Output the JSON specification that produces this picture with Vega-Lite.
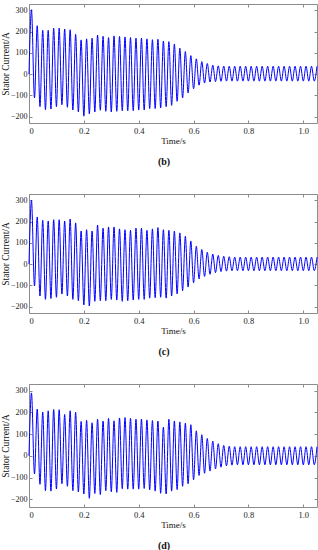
{
"$schema": "https://vega.github.io/schema/vega-lite/v6.json",
"padding": {"left": 0, "top": 3, "right": 1, "bottom": 0},
"background": "white",
"spacing": 26,
"config": {
  "font": "Liberation Serif",
  "view": {"stroke": null},
  "title": {"font": "Liberation Serif", "fontSize": 10, "fontWeight": "bold", "color": "#111"},
  "axis": {"labelFont": "Liberation Serif", "titleFont": "Liberation Serif", "labelFontSize": 8.5, "titleFontSize": 9, "titleFontWeight": "normal", "domainColor": "#8c8c8c", "tickColor": "#8c8c8c", "labelColor": "#222", "titleColor": "#111", "grid": false, "tickSize": -3, "labelPadding": 6}
},
"datasets": {"s": [
{"t":0,"b":0,"c":0,"d":0},
{"t":0.009,"b":303,"c":300,"d":289},
{"t":0.02,"b":-112,"c":-103,"d":-83},
{"t":0.03,"b":228,"c":222,"d":215},
{"t":0.04,"b":-153,"c":-150,"d":-131},
{"t":0.05,"b":206,"c":206,"d":201},
{"t":0.06,"b":-167,"c":-166,"d":-160},
{"t":0.07,"b":206,"c":203,"d":207},
{"t":0.08,"b":-164,"c":-162,"d":-162},
{"t":0.09,"b":216,"c":209,"d":213},
{"t":0.10,"b":-153,"c":-156,"d":-152},
{"t":0.11,"b":216,"c":209,"d":212},
{"t":0.12,"b":-144,"c":-141,"d":-128},
{"t":0.13,"b":212,"c":203,"d":190},
{"t":0.14,"b":-156,"c":-150,"d":-140},
{"t":0.15,"b":209,"c":212,"d":207},
{"t":0.16,"b":-169,"c":-166,"d":-160},
{"t":0.17,"b":187,"c":194,"d":200},
{"t":0.18,"b":-178,"c":-172,"d":-166},
{"t":0.19,"b":161,"c":156,"d":158},
{"t":0.20,"b":-198,"c":-192,"d":-175},
{"t":0.21,"b":166,"c":162,"d":163},
{"t":0.22,"b":-187,"c":-197,"d":-195},
{"t":0.23,"b":169,"c":156,"d":152},
{"t":0.24,"b":-178,"c":-175,"d":-173},
{"t":0.25,"b":184,"c":184,"d":168},
{"t":0.26,"b":-170,"c":-172,"d":-178},
{"t":0.27,"b":178,"c":169,"d":160},
{"t":0.28,"b":-175,"c":-172,"d":-160},
{"t":0.29,"b":172,"c":175,"d":172},
{"t":0.30,"b":-178,"c":-166,"d":-165},
{"t":0.31,"b":180,"c":175,"d":161},
{"t":0.32,"b":-175,"c":-169,"d":-168},
{"t":0.33,"b":177,"c":166,"d":174},
{"t":0.34,"b":-172,"c":-175,"d":-151},
{"t":0.35,"b":175,"c":162,"d":176},
{"t":0.36,"b":-172,"c":-172,"d":-153},
{"t":0.37,"b":172,"c":159,"d":172},
{"t":0.38,"b":-172,"c":-169,"d":-153},
{"t":0.39,"b":169,"c":169,"d":168},
{"t":0.40,"b":-169,"c":-166,"d":-153},
{"t":0.41,"b":169,"c":169,"d":169},
{"t":0.42,"b":-169,"c":-166,"d":-150},
{"t":0.43,"b":166,"c":159,"d":165},
{"t":0.44,"b":-162,"c":-160,"d":-156},
{"t":0.45,"b":162,"c":166,"d":162},
{"t":0.46,"b":-162,"c":-158,"d":-162},
{"t":0.47,"b":164,"c":172,"d":160},
{"t":0.48,"b":-159,"c":-156,"d":-172},
{"t":0.49,"b":156,"c":162,"d":132},
{"t":0.50,"b":-153,"c":-160,"d":-175},
{"t":0.51,"b":153,"c":159,"d":168},
{"t":0.52,"b":-147,"c":-150,"d":-162},
{"t":0.53,"b":142,"c":156,"d":160},
{"t":0.54,"b":-128,"c":-140,"d":-155},
{"t":0.55,"b":122,"c":147,"d":156},
{"t":0.56,"b":-112,"c":-125,"d":-140},
{"t":0.57,"b":106,"c":131,"d":150},
{"t":0.58,"b":-89,"c":-108,"d":-128},
{"t":0.59,"b":87,"c":109,"d":143},
{"t":0.60,"b":-69,"c":-88,"d":-110},
{"t":0.61,"b":72,"c":84,"d":115},
{"t":0.62,"b":-52,"c":-70,"d":-90},
{"t":0.63,"b":59,"c":69,"d":97},
{"t":0.64,"b":-42,"c":-58,"d":-80},
{"t":0.65,"b":50,"c":56,"d":80},
{"t":0.66,"b":-37,"c":-48,"d":-70},
{"t":0.67,"b":42,"c":47,"d":68},
{"t":0.68,"b":-35,"c":-40,"d":-60},
{"t":0.69,"b":39,"c":41,"d":56},
{"t":0.70,"b":-34,"c":-35,"d":-52},
{"t":0.71,"b":38,"c":37,"d":48},
{"t":0.72,"b":-33,"c":-33,"d":-46},
{"t":0.73,"b":37,"c":35,"d":44},
{"t":0.74,"b":-33,"c":-31,"d":-43},
{"t":0.75,"b":37,"c":33,"d":42},
{"t":0.76,"b":-33,"c":-31,"d":-41},
{"t":0.77,"b":37,"c":33,"d":42},
{"t":0.78,"b":-33,"c":-31,"d":-41},
{"t":0.79,"b":37,"c":33,"d":42},
{"t":0.80,"b":-33,"c":-31,"d":-41},
{"t":0.81,"b":37,"c":33,"d":42},
{"t":0.82,"b":-33,"c":-31,"d":-41},
{"t":0.83,"b":37,"c":33,"d":42},
{"t":0.84,"b":-33,"c":-31,"d":-41},
{"t":0.85,"b":37,"c":33,"d":42},
{"t":0.86,"b":-33,"c":-31,"d":-41},
{"t":0.87,"b":37,"c":33,"d":42},
{"t":0.88,"b":-33,"c":-31,"d":-41},
{"t":0.89,"b":37,"c":33,"d":42},
{"t":0.90,"b":-33,"c":-31,"d":-41},
{"t":0.91,"b":37,"c":33,"d":42},
{"t":0.92,"b":-33,"c":-31,"d":-41},
{"t":0.93,"b":37,"c":33,"d":42},
{"t":0.94,"b":-33,"c":-31,"d":-41},
{"t":0.95,"b":37,"c":33,"d":42},
{"t":0.96,"b":-33,"c":-31,"d":-41},
{"t":0.97,"b":37,"c":33,"d":42},
{"t":0.98,"b":-33,"c":-31,"d":-41},
{"t":0.99,"b":37,"c":33,"d":42},
{"t":1.00,"b":-33,"c":-31,"d":-41},
{"t":1.01,"b":37,"c":33,"d":42},
{"t":1.02,"b":-33,"c":-31,"d":-41},
{"t":1.03,"b":37,"c":33,"d":42},
{"t":1.04,"b":-33,"c":-31,"d":-41},
{"t":1.05,"b":37,"c":33,"d":42}
]},
"vconcat": [
{
  "width": 288, "height": 119,
  "data": {"name": "s"},
  "title": {"text": "(b)", "orient": "bottom", "dx": -9, "offset": 11},
  "layer": [
    {"mark": {"type": "line", "color": "#0000ff", "strokeWidth": 1, "interpolate": "monotone"},
     "encoding": {
       "x": {"field": "t", "type": "quantitative", "scale": {"domain": [0, 1.05], "nice": false, "zero": false}, "axis": {"orient": "bottom", "title": "Time/s", "values": [0, 0.2, 0.4, 0.6, 0.8, 1.0], "labelExpr": "datum.value == 0 ? '0' : format(datum.value, '.1f')", "titlePadding": 2}},
       "y": {"field": "b", "type": "quantitative", "scale": {"domain": [-230, 330], "nice": false}, "axis": {"orient": "left", "title": "Stator Current/A", "titleFontSize": 9.5, "labelFontSize": 8, "values": [-200, -100, 0, 100, 200, 300], "labelPadding": 5, "titlePadding": 0}}
     }},
    {"mark": {"type": "line", "strokeOpacity": 0},
     "encoding": {
       "x": {"field": "t", "type": "quantitative", "scale": {"domain": [0, 1.05], "nice": false, "zero": false}, "axis": {"orient": "top", "labels": false, "title": null, "values": [0, 0.2, 0.4, 0.6, 0.8, 1.0]}},
       "y": {"field": "b", "type": "quantitative", "scale": {"domain": [-230, 330], "nice": false}, "axis": {"orient": "right", "labels": false, "title": null, "values": [-200, -100, 0, 100, 200, 300]}}
     }}
  ],
  "resolve": {"axis": {"x": "independent", "y": "independent"}}
},
{
  "width": 288, "height": 119,
  "data": {"name": "s"},
  "title": {"text": "(c)", "orient": "bottom", "dx": -9, "offset": 11},
  "layer": [
    {"mark": {"type": "line", "color": "#0000ff", "strokeWidth": 1, "interpolate": "monotone"},
     "encoding": {
       "x": {"field": "t", "type": "quantitative", "scale": {"domain": [0, 1.05], "nice": false, "zero": false}, "axis": {"orient": "bottom", "title": "Time/s", "values": [0, 0.2, 0.4, 0.6, 0.8, 1.0], "labelExpr": "datum.value == 0 ? '0' : format(datum.value, '.1f')", "titlePadding": 2}},
       "y": {"field": "c", "type": "quantitative", "scale": {"domain": [-230, 330], "nice": false}, "axis": {"orient": "left", "title": "Stator Current/A", "titleFontSize": 9.5, "labelFontSize": 8, "values": [-200, -100, 0, 100, 200, 300], "labelPadding": 5, "titlePadding": 0}}
     }},
    {"mark": {"type": "line", "strokeOpacity": 0},
     "encoding": {
       "x": {"field": "t", "type": "quantitative", "scale": {"domain": [0, 1.05], "nice": false, "zero": false}, "axis": {"orient": "top", "labels": false, "title": null, "values": [0, 0.2, 0.4, 0.6, 0.8, 1.0]}},
       "y": {"field": "c", "type": "quantitative", "scale": {"domain": [-230, 330], "nice": false}, "axis": {"orient": "right", "labels": false, "title": null, "values": [-200, -100, 0, 100, 200, 300]}}
     }}
  ],
  "resolve": {"axis": {"x": "independent", "y": "independent"}}
},
{
  "width": 288, "height": 123,
  "data": {"name": "s"},
  "title": {"text": "(d)", "orient": "bottom", "dx": -9, "offset": 11},
  "layer": [
    {"mark": {"type": "line", "color": "#0000ff", "strokeWidth": 1, "interpolate": "monotone"},
     "encoding": {
       "x": {"field": "t", "type": "quantitative", "scale": {"domain": [0, 1.05], "nice": false, "zero": false}, "axis": {"orient": "bottom", "title": "Time/s", "values": [0, 0.2, 0.4, 0.6, 0.8, 1.0], "labelExpr": "datum.value == 0 ? '0' : format(datum.value, '.1f')", "titlePadding": 2}},
       "y": {"field": "d", "type": "quantitative", "scale": {"domain": [-235, 330], "nice": false}, "axis": {"orient": "left", "title": "Stator Current/A", "titleFontSize": 9.5, "labelFontSize": 8, "values": [-200, -100, 0, 100, 200, 300], "labelPadding": 5, "titlePadding": 0}}
     }},
    {"mark": {"type": "line", "strokeOpacity": 0},
     "encoding": {
       "x": {"field": "t", "type": "quantitative", "scale": {"domain": [0, 1.05], "nice": false, "zero": false}, "axis": {"orient": "top", "labels": false, "title": null, "values": [0, 0.2, 0.4, 0.6, 0.8, 1.0]}},
       "y": {"field": "d", "type": "quantitative", "scale": {"domain": [-235, 330], "nice": false}, "axis": {"orient": "right", "labels": false, "title": null, "values": [-200, -100, 0, 100, 200, 300]}}
     }}
  ],
  "resolve": {"axis": {"x": "independent", "y": "independent"}}
}
]
}
